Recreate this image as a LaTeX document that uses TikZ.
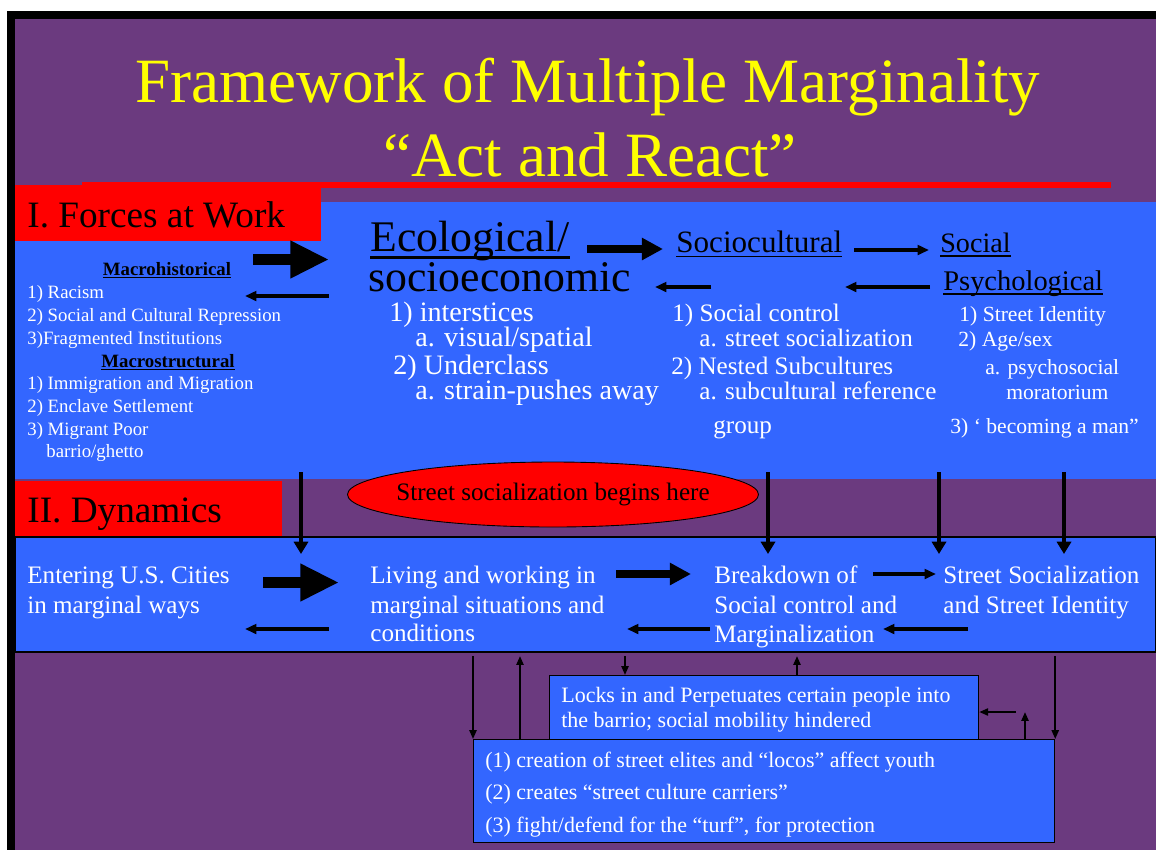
\documentclass[tikz,border=0pt]{standalone}
\usepackage{fontspec}
\setmainfont{Liberation Serif}
\usepackage{xcolor}
\usepackage{tikz}
\usetikzlibrary{arrows.meta, calc, shapes.geometric}

\definecolor{slidepurple}{RGB}{107,58,127}
\definecolor{slideblue}{RGB}{51,102,255}
\definecolor{slidered}{RGB}{255,0,0}
\definecolor{slideyellow}{RGB}{255,255,0}

\newcommand{\fsz}[1]{\fontsize{#1}{#1}\selectfont}
\newsavebox{\undlbox}
\newcommand{\undl}[1]{\sbox{\undlbox}{#1}\rlap{\rule[-.175em]{\wd\undlbox}{.055em}}\usebox{\undlbox}}

\begin{document}
\begin{tikzpicture}[x=0.02cm, y=-0.02cm,
  txt/.style={anchor=base west, inner sep=0pt, text=white},
  hdr/.style={anchor=base west, inner sep=0pt, text=black},
  lowbox/.style={anchor=north west, inner sep=0pt, fill=slideblue, draw=black, line width=0.7pt},
  bigarrow/.style={line width=6.2pt, -{Triangle[length=22pt, width=20pt]}},
  midarrow/.style={line width=4.4pt, -{Triangle[length=12pt, width=12pt]}},
  thinarrow/.style={line width=2pt, -{Triangle[length=6.5pt, width=5.5pt]}},
  droparrow/.style={line width=2.3pt, -{Triangle[length=7pt, width=8pt]}},
  tinyarrow/.style={line width=1.1pt, -{Triangle[length=5pt, width=4pt]}}]

% slide frame
\useasboundingbox (0,0) rectangle (1156,850);
\fill[white] (0,0) rectangle (1156,850);
\fill[black] (7,11) rectangle (1156,850);
\fill[slidepurple] (15,19) rectangle (1156,850);

% title
\node[anchor=base, inner sep=0pt, text=slideyellow, font=\fsz{35.9pt}] (title1) at (588,102) {Framework of Multiple Marginality};
\node[anchor=base, inner sep=0pt, text=slideyellow, font=\fsz{35.9pt}] (title2) at (590,176) {“Act and React”};

% I. forces at work
\fill[slideblue] (15,202) rectangle (1156,479);
\fill[slidered] (82,182) rectangle (1111,188);
\fill[slidered] (15,185) rectangle (321,241);
\node[hdr, font=\fsz{21.2pt}] (forces) at (27,227) {I. Forces at Work};

\node[hdr, anchor=base, font=\bfseries\fsz{10.7pt}] (mhist) at (167,275) {\undl{Macrohistorical}};
\foreach \itm [count=\i] in {1) Racism, 2) Social and Cultural Repression, 3)Fragmented Institutions}
  \node[txt, font=\fsz{10.7pt}] (mhist\i) at (27,{275+23*\i}) {\itm};
\node[hdr, anchor=base, font=\bfseries\fsz{10.7pt}] (mstruct) at (168,367) {\undl{Macrostructural}};
\foreach \itm [count=\i] in {1) Immigration and Migration, 2) Enclave Settlement, 3) Migrant Poor}
  \node[txt, font=\fsz{10.7pt}] (mstruct\i) at (27,{367+22.7*\i}) {\itm};
\node[txt, font=\fsz{10.7pt}] (mstruct4) at (46,457) {barrio/ghetto};

\node[hdr, font=\fsz{24.9pt}] (eco) at (370,251) {\undl{Ecological/}};
\node[hdr, font=\fsz{24.9pt}] (eco2) at (368,291) {socioeconomic};
\node[txt, font=\fsz{16pt}] (eco3) at (389,321) {1) interstices};
\node[txt, font=\fsz{16pt}] (eco4) at (415,346) {a. visual/spatial};
\node[txt, font=\fsz{16pt}] (eco5) at (393,374) {2) Underclass};
\node[txt, font=\fsz{16pt}] (eco6) at (415,399) {a. strain-pushes away};

\node[hdr, font=\fsz{17.7pt}] (soc) at (676,252) {\undl{Sociocultural}};
\node[txt, font=\fsz{14.3pt}] (soc1) at (672,321) {1) Social control};
\node[txt, font=\fsz{14.3pt}] (soc2) at (699,346) {a. street socialization};
\node[txt, font=\fsz{14.3pt}] (soc3) at (671,374) {2) Nested Subcultures};
\node[txt, font=\fsz{14.3pt}] (soc4) at (699,399) {a. subcultural reference};
\node[txt, font=\fsz{14.3pt}] (soc5) at (713,433) {group};

\node[hdr, font=\fsz{16pt}] (psy) at (940,252) {\undl{Social}};
\node[hdr, font=\fsz{16.2pt}] (psy2) at (943,290) {\undl{Psychological}};
\node[txt, font=\fsz{12.3pt}] (psy3) at (959,321) {1) Street Identity};
\node[txt, font=\fsz{12.3pt}] (psy4) at (958,346) {2) Age/sex};
\node[txt, font=\fsz{12.3pt}] (psy5) at (985,374) {a. psychosocial};
\node[txt, font=\fsz{12.3pt}] (psy6) at (1006,399) {moratorium};
\node[txt, font=\fsz{12.3pt}] (psy7) at (950,433) {3) ‘ becoming a man”};

% arrows between the forces
\path (253,259.5) coordinate (f1a) (329,259.5) coordinate (f1b)
      (329,296) coordinate (f2a) (245,296) coordinate (f2b)
      (587,249) coordinate (f3a) (663,249) coordinate (f3b)
      (711,287) coordinate (f4a) (655,287) coordinate (f4b)
      (854,250) coordinate (f5a) (929,250) coordinate (f5b)
      (930,287) coordinate (f6a) (845,287) coordinate (f6b);
\draw[bigarrow] (f1a) -- (f1b);
\draw[thinarrow] (f2a) -- (f2b);
\draw[midarrow] (f3a) -- (f3b);
\draw[thinarrow] (f4a) -- (f4b);
\draw[thinarrow] (f5a) -- (f5b);
\draw[thinarrow] (f6a) -- (f6b);

% II. dynamics
\fill[slidered] (15,481) rectangle (282,536);
\node[hdr, font=\fsz{21.2pt}] (dynamics) at (27,522) {II. Dynamics};
\fill[slideblue, draw=black, line width=0.8pt] (15,537) rectangle (1156,652);
\node[ellipse, draw=black, line width=0.5pt, fill=slidered, inner sep=0pt,
  minimum width=411*0.02cm, minimum height=65*0.02cm, font=\fsz{14.3pt}] (begins) at (553,494.5)
  {\makebox[0pt]{\raisebox{-2pt}{Street socialization begins here}}};

\foreach \x [count=\i] in {301,768,939,1064} {
  \coordinate (drop\i a) at (\x,472);
  \coordinate (drop\i b) at (\x,554);
  \draw[droparrow] (drop\i a) -- (drop\i b);
}

\node[txt, font=\fsz{14.3pt}] (enter1) at (27,583) {Entering U.S. Cities};
\node[txt, font=\fsz{14.3pt}] (enter2) at (27,613) {in marginal ways};
\node[txt, font=\fsz{14.3pt}] (live1) at (370,583) {Living and working in};
\node[txt, font=\fsz{14.3pt}] (live2) at (370,613) {marginal situations and};
\node[txt, font=\fsz{14.3pt}] (live3) at (370,641) {conditions};
\node[txt, font=\fsz{14.3pt}] (brk1) at (714,583) {Breakdown of};
\node[txt, font=\fsz{14.3pt}] (brk2) at (714,613) {Social control and};
\node[txt, font=\fsz{14.3pt}] (brk3) at (714,642) {Marginalization};
\node[txt, font=\fsz{14.3pt}] (ident1) at (943,583) {Street Socialization};
\node[txt, font=\fsz{14.3pt}] (ident2) at (943,613) {and Street Identity};

\path (263,582.5) coordinate (d1a) (339,582.5) coordinate (d1b)
      (329,629) coordinate (d2a) (245,629) coordinate (d2b)
      (616,574) coordinate (d3a) (691,574) coordinate (d3b)
      (873,574) coordinate (d4a) (936,574) coordinate (d4b)
      (710,629) coordinate (d5a) (627,629) coordinate (d5b)
      (968,629) coordinate (d6a) (883,629) coordinate (d6b);
\draw[bigarrow] (d1a) -- (d1b);
\draw[thinarrow] (d2a) -- (d2b);
\draw[midarrow] (d3a) -- (d3b);
\draw[thinarrow] (d4a) -- (d4b);
\draw[thinarrow] (d5a) -- (d5b);
\draw[thinarrow] (d6a) -- (d6b);

% consequences
\node[lowbox, minimum width=429*0.02cm, minimum height=64*0.02cm] (lock) at (549,675) {};
\node[lowbox, minimum width=581*0.02cm, minimum height=103*0.02cm] (crew) at (473,739) {};
\node[txt, font=\fsz{12.5pt}] (lock1) at (561,702) {Locks in and Perpetuates certain people into};
\node[txt, font=\fsz{12.5pt}] (lock2) at (561,727) {the barrio; social mobility hindered};
\node[txt, font=\fsz{12.5pt}] (crew1) at (485,767) {(1) creation of street elites and “locos” affect youth};
\node[txt, font=\fsz{12.5pt}] (crew2) at (485,799) {(2) creates “street culture carriers”};
\node[txt, font=\fsz{12.5pt}] (crew3) at (485,832) {(3) fight/defend for the “turf”, for protection};

\path (0,656) coordinate (dynbot)
      (520,0) coordinate (upl) (625,0) coordinate (lockin) (797,0) coordinate (lockout)
      (1016,712) coordinate (side) (1025,712) coordinate (sideup);
\draw[tinyarrow] (dynbot -| crew.west) -- (crew.north west);
\draw[tinyarrow] (crew.north -| upl) -- (dynbot -| upl);
\draw[tinyarrow] (dynbot -| lockin) -- (lock.north -| lockin);
\draw[tinyarrow] (lock.north -| lockout) -- (dynbot -| lockout);
\draw[tinyarrow] (side) -- (side -| lock.east);
\draw[tinyarrow] (crew.north -| sideup) -- (sideup);
\draw[tinyarrow] (dynbot -| crew.east) -- (crew.north east);
\end{tikzpicture}
\end{document}
